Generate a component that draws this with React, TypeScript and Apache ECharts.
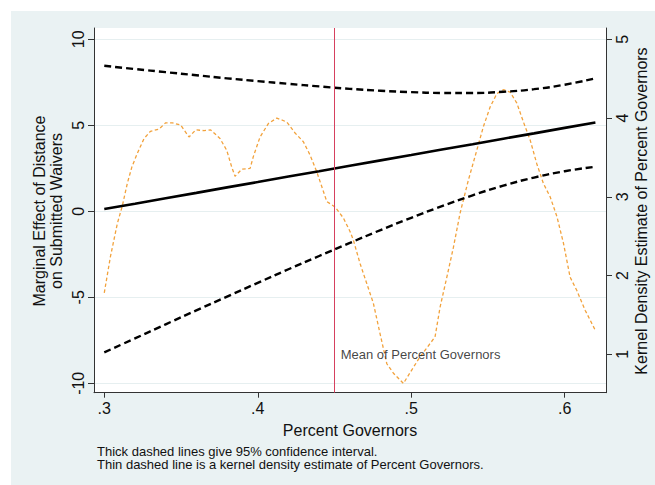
import React, { useEffect, useRef } from "react";
import * as echarts from "echarts";

// Percent Governors grid for the marginal-effect lines
const effectX = [0.30, 0.32, 0.34, 0.36, 0.38, 0.40, 0.42, 0.44, 0.46, 0.48, 0.50, 0.52, 0.54, 0.56, 0.58, 0.60, 0.62];
const effect = [0.13, 0.44, 0.76, 1.07, 1.39, 1.70, 2.02, 2.33, 2.65, 2.96, 3.27, 3.59, 3.90, 4.22, 4.53, 4.85, 5.16];
const upperCI = [8.46, 8.27, 8.09, 7.91, 7.73, 7.57, 7.41, 7.26, 7.12, 7.01, 6.93, 6.88, 6.88, 6.95, 7.10, 7.36, 7.73];
const lowerCI = [-8.20, -7.39, -6.57, -5.76, -4.96, -4.16, -3.37, -2.60, -1.84, -1.09, -0.38, 0.30, 0.93, 1.49, 1.96, 2.33, 2.59];

// Kernel density of Percent Governors
const densityX = [
  0.3000, 0.3040, 0.3085, 0.3117, 0.3150, 0.3180, 0.3215, 0.3259, 0.3300, 0.3357,
  0.3400, 0.3443, 0.3498, 0.3552, 0.3596, 0.3650, 0.3693, 0.3754, 0.3798, 0.3830,
  0.3852, 0.3896, 0.3950, 0.3971, 0.4015, 0.4069, 0.4124, 0.4189, 0.4243, 0.4297,
  0.4341, 0.4384, 0.4417, 0.4450, 0.4504, 0.4558, 0.4601, 0.4623, 0.4667, 0.4710,
  0.4753, 0.4797, 0.4841, 0.4884, 0.4949, 0.5003, 0.5058, 0.5155, 0.5188, 0.5232,
  0.5275, 0.5318, 0.5372, 0.5427, 0.5470, 0.5514, 0.5558, 0.5601, 0.5644, 0.5688,
  0.5731, 0.5775, 0.5818, 0.5861, 0.5905, 0.5949, 0.5992, 0.6035, 0.6079, 0.6133,
  0.6198,
];
const density = [
  1.78, 2.24, 2.66, 2.88, 3.17, 3.38, 3.55, 3.74, 3.83, 3.86,
  3.94, 3.94, 3.91, 3.76, 3.85, 3.84, 3.85, 3.74, 3.59, 3.38,
  3.26, 3.35, 3.36, 3.51, 3.76, 3.93, 4.00, 3.95, 3.81, 3.70,
  3.53, 3.32, 3.13, 2.94, 2.87, 2.73, 2.56, 2.45, 2.15, 1.90,
  1.65, 1.26, 0.88, 0.76, 0.63, 0.80, 0.97, 1.22, 1.60, 1.98,
  2.36, 2.79, 3.21, 3.59, 3.89, 4.14, 4.31, 4.36, 4.33, 4.19,
  3.95, 3.72, 3.42, 3.17, 3.00, 2.75, 2.41, 1.98, 1.81, 1.56,
  1.31,
];

const meanPercentGovernors = 0.4508;

const xTicks = [0.3, 0.4, 0.5, 0.6];
const leftTicks = [-10, -5, 0, 5, 10];
const rightTicks = [1, 2, 3, 4, 5];

const FONT = "Liberation Sans, Arial, Helvetica, sans-serif";
const INK = "#111111";

export default function App() {
  const ref = useRef<HTMLDivElement>(null);

  useEffect(() => {
    document.body.style.margin = "0";
    if (!ref.current) return;
    const chart = echarts.init(ref.current, undefined, { renderer: "svg" });

    const pairs = (xs: number[], ys: number[]) => xs.map((x, i) => [x, ys[i]]);

    chart.setOption({
      animation: false,
      backgroundColor: "#ffffff",
      textStyle: { fontFamily: FONT },
      graphic: [
        {
          type: "rect",
          z: -10,
          silent: true,
          shape: { x: 11, y: 11, width: 644, height: 474 },
          style: { fill: "#eaf2f3" },
        },
        {
          type: "text",
          x: 48,
          y: 211,
          rotation: Math.PI / 2,
          style: {
            text: "Marginal Effect of Distance\non Submitted Waivers",
            font: `16px ${FONT}`,
            fill: INK,
            align: "center",
            verticalAlign: "middle",
            lineHeight: 17,
          },
        },
        {
          type: "text",
          x: 641,
          y: 211,
          rotation: Math.PI / 2,
          style: {
            text: "Kernel Density Estimate of Percent Governors",
            font: `16px ${FONT}`,
            fill: INK,
            align: "center",
            verticalAlign: "middle",
          },
        },
        {
          type: "text",
          x: 350,
          y: 430,
          style: {
            text: "Percent Governors",
            font: `16px ${FONT}`,
            fill: INK,
            align: "center",
            verticalAlign: "middle",
          },
        },
        {
          type: "text",
          x: 97,
          y: 451,
          style: {
            text: "Thick dashed lines give 95% confidence interval.",
            font: `13px ${FONT}`,
            fill: INK,
            align: "left",
            verticalAlign: "middle",
          },
        },
        {
          type: "text",
          x: 97,
          y: 464.5,
          style: {
            text: "Thin dashed line is a kernel density estimate of Percent Governors.",
            font: `13px ${FONT}`,
            fill: INK,
            align: "left",
            verticalAlign: "middle",
          },
        },
      ],
      grid: {
        left: 94,
        right: 49,
        top: 28,
        bottom: 92.3,
        show: true,
        backgroundColor: "#ffffff",
        borderWidth: 0,
      },
      xAxis: {
        type: "value",
        min: 0.2933,
        max: 0.6269,
        axisLine: { show: true, onZero: false, lineStyle: { color: "#333", width: 1 } },
        axisTick: { show: true, customValues: xTicks, length: 5, lineStyle: { color: "#333" } },
        axisLabel: {
          customValues: xTicks,
          formatter: (v: number) => "." + Math.round(v * 10),
          fontSize: 16,
          color: INK,
          margin: 8,
          fontFamily: FONT,
        },
        splitLine: { show: false },
      },
      yAxis: [
        {
          type: "value",
          min: -10.547,
          max: 10.657,
          position: "left",
          axisLine: { show: true, onZero: false, lineStyle: { color: "#333", width: 1 } },
          axisTick: { show: true, customValues: leftTicks, length: 6, lineStyle: { color: "#333" } },
          axisLabel: {
            customValues: leftTicks,
            rotate: 90,
            fontSize: 16,
            color: INK,
            margin: 8,
            fontFamily: FONT,
          },
          splitLine: { show: true, lineStyle: { color: "#e6eff0", width: 1.2 } },
        },
        {
          type: "value",
          min: 0.5124,
          max: 5.1435,
          position: "right",
          axisLine: { show: true, onZero: false, lineStyle: { color: "#333", width: 1 } },
          axisTick: { show: true, customValues: rightTicks, length: 6, lineStyle: { color: "#333" } },
          axisLabel: {
            customValues: rightTicks,
            rotate: 90,
            fontSize: 16,
            color: INK,
            margin: 8,
            fontFamily: FONT,
          },
          splitLine: { show: false },
        },
      ],
      series: [
        {
          name: "Kernel density",
          type: "line",
          yAxisIndex: 1,
          data: pairs(densityX, density),
          showSymbol: false,
          smooth: false,
          lineStyle: { color: "#f2a23c", width: 1.3, type: [3.5, 2.5] },
          z: 2,
          markLine: {
            silent: true,
            symbol: ["none", "none"],
            label: { show: false },
            lineStyle: { color: "#d6405e", width: 1, type: "solid" },
            data: [{ xAxis: meanPercentGovernors }],
          },
        },
        {
          name: "Marginal effect",
          type: "line",
          data: pairs(effectX, effect),
          showSymbol: false,
          lineStyle: { color: "#000", width: 2.6 },
          z: 3,
        },
        {
          name: "Upper 95% CI",
          type: "line",
          data: pairs(effectX, upperCI),
          showSymbol: false,
          smooth: true,
          lineStyle: { color: "#000", width: 2.4, type: [7, 4] },
          z: 3,
        },
        {
          name: "Lower 95% CI",
          type: "line",
          data: pairs(effectX, lowerCI),
          showSymbol: false,
          smooth: true,
          lineStyle: { color: "#000", width: 2.4, type: [7, 4] },
          z: 3,
        },
        {
          name: "Mean label",
          type: "scatter",
          data: [[meanPercentGovernors, -8.35]],
          symbolSize: 0,
          silent: true,
          label: {
            show: true,
            position: "right",
            distance: 5,
            formatter: "Mean of Percent Governors",
            fontSize: 13,
            color: INK,
            fontFamily: FONT,
          },
        },
      ],
    });

    return () => chart.dispose();
  }, []);

  return <div ref={ref} style={{ width: 655, height: 485 }} />;
}
